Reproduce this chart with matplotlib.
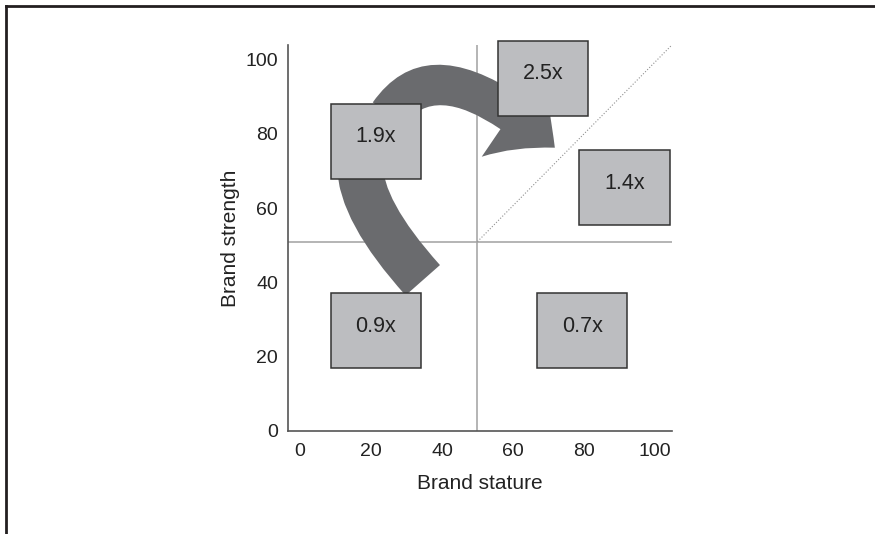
import matplotlib.pyplot as plt
from matplotlib.patches import Rectangle, FancyArrowPatch
from matplotlib.lines import Line2D

plt.rcParams['font.family'] = ['Liberation Sans', 'DejaVu Sans']

# multiplier per segment, box centre in (stature, strength)
labels = ['1.9x', '2.5x', '1.4x', '0.9x', '0.7x']
stature = [21.4, 68.5, 91.4, 21.4, 79.5]
strength = [78, 95, 65.5, 27, 27]

x_ticks = [0, 20, 40, 60, 80, 100]
y_ticks = [0, 20, 40, 60, 80, 100]
x_split = 50
y_split = 51

box_w, box_h = 25.4, 20.2
box_fc = '#bcbdc0'
arrow_fc = '#6a6b6e'

fig = plt.figure(figsize=(8.75, 5.34), dpi=100)
ax = fig.add_axes([0.329, 0.193, 0.439, 0.723])
ax.set_xlim(-3.4, 104.8)
ax.set_ylim(0, 104)

for s in ['top', 'right']:
    ax.spines[s].set_visible(False)
for s in ['left', 'bottom']:
    ax.spines[s].set_color('#555555')
    ax.spines[s].set_linewidth(1.2)
ax.tick_params(length=0, labelsize=14, colors='#222222')
ax.tick_params(axis='x', pad=9)
ax.tick_params(axis='y', pad=7)
ax.set_xticks(x_ticks)
ax.set_yticks(y_ticks)
ax.set_xlabel('Brand stature', fontsize=15, color='#222222', labelpad=10)
ax.set_ylabel('Brand strength', fontsize=15, color='#222222', labelpad=4)

# quadrant lines and diagonal
ax.axvline(x_split, color='#a0a0a0', lw=1.1, zorder=1)
ax.axhline(y_split, color='#a0a0a0', lw=1.1, zorder=1)
ax.plot([x_split, 104.8], [y_split, 104], color='#909090', lw=0.8, ls=':', zorder=1)

# curved arrow 1.9x -> 2.5x (head partly under the 2.5x box)
a1 = FancyArrowPatch((25.0, 85.5), (71.8, 76.3), connectionstyle='angle3,angleA=55,angleB=-42',
                     arrowstyle='simple,head_length=40,head_width=76,tail_width=28',
                     mutation_scale=1, shrinkA=0, shrinkB=0,
                     fc=arrow_fc, ec='none', zorder=2)
# curved band 1.9x -> 0.9x, end tucked under the 0.9x box
a2 = FancyArrowPatch((16.9, 71.7), (34.6, 40.6), connectionstyle='angle3,angleA=90,angleB=-48',
                     arrowstyle='-', mutation_scale=1, shrinkA=0, shrinkB=0,
                     ec=arrow_fc, lw=33, capstyle='butt', zorder=2)
ax.add_patch(a1)
ax.add_patch(a2)

for lab, x, y in zip(labels, stature, strength):
    ax.add_patch(Rectangle((x - box_w / 2, y - box_h / 2), box_w, box_h,
                           fc=box_fc, ec='#333333', lw=1.1, zorder=3, clip_on=False))
    ax.text(x, y + 1.2, lab, ha='center', va='center', fontsize=15.5,
            color='#222222', zorder=4)

# outer frame: top and left edges
fig.add_artist(Line2D([0.007, 1.0], [0.989, 0.989], color='#231f20', lw=2))
fig.add_artist(Line2D([0.007, 0.007], [0.0, 0.989], color='#231f20', lw=2))

plt.savefig('out.png', dpi=100)
